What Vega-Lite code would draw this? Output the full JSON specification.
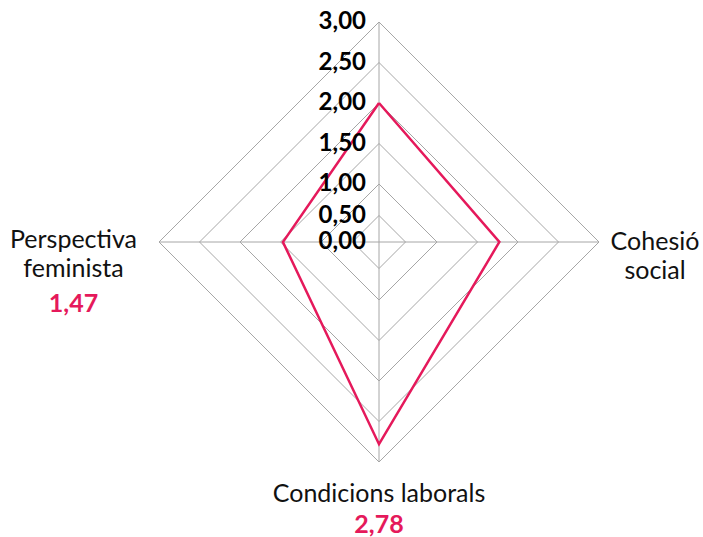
{
  "$schema": "https://vega.github.io/schema/vega-lite/v6.json",
  "width": 440,
  "height": 440,
  "autosize": {"type": "none"},
  "padding": {"left": 159, "top": 22, "right": 104, "bottom": 75},
  "background": "white",
  "config": {"view": {"stroke": null}, "font": "Lato"},
  "datasets": {
    "rings": [
      {"level": 0.5, "dx": [0, 1, 0, -1, 0], "dy": [1, 0, -1, 0, 1], "k": [0, 1, 2, 3, 4]},
      {"level": 1.0, "dx": [0, 1, 0, -1, 0], "dy": [1, 0, -1, 0, 1], "k": [0, 1, 2, 3, 4]},
      {"level": 1.5, "dx": [0, 1, 0, -1, 0], "dy": [1, 0, -1, 0, 1], "k": [0, 1, 2, 3, 4]},
      {"level": 2.0, "dx": [0, 1, 0, -1, 0], "dy": [1, 0, -1, 0, 1], "k": [0, 1, 2, 3, 4]},
      {"level": 2.5, "dx": [0, 1, 0, -1, 0], "dy": [1, 0, -1, 0, 1], "k": [0, 1, 2, 3, 4]},
      {"level": 3.0, "dx": [0, 1, 0, -1, 0], "dy": [1, 0, -1, 0, 1], "k": [0, 1, 2, 3, 4]}
    ],
    "spokes": [
      {"x1": 0, "y1": -3, "x2": 0, "y2": 3},
      {"x1": -3, "y1": 0, "x2": 3, "y2": 0}
    ],
    "scores": [
      {"axis": "", "value": 2.0, "dx": 0, "dy": 1, "k": 0},
      {"axis": "Cohesió social", "value": 1.77, "dx": 1, "dy": 0, "k": 1},
      {"axis": "Condicions laborals", "value": 2.78, "dx": 0, "dy": -1, "k": 2},
      {"axis": "Perspectiva feminista", "value": 1.47, "dx": -1, "dy": 0, "k": 3},
      {"axis": "", "value": 2.0, "dx": 0, "dy": 1, "k": 4}
    ],
    "ticks": [
      {"level": 0.0, "label": "0,00"},
      {"level": 0.5, "label": "0,50"},
      {"level": 1.0, "label": "1,00"},
      {"level": 1.5, "label": "1,50"},
      {"level": 2.0, "label": "2,00"},
      {"level": 2.5, "label": "2,50"},
      {"level": 3.0, "label": "3,00"}
    ]
  },
  "layer": [
    {
      "data": {"name": "spokes"},
      "mark": {"type": "rule", "color": "#a6a6a6", "strokeWidth": 1},
      "encoding": {
        "x": {"field": "x1", "type": "quantitative", "scale": {"domain": [-3, -1, -0.5, 0, 0.5, 1, 3], "range": [0, 162, 193.5, 220, 246.5, 278, 440], "nice": false, "zero": false}, "axis": null},
        "y": {"field": "y1", "type": "quantitative", "scale": {"domain": [-3, -1, -0.5, 0, 0.5, 1, 3], "range": [440, 278, 246.5, 220, 193.5, 162, 0], "nice": false, "zero": false}, "axis": null},
        "x2": {"field": "x2"},
        "y2": {"field": "y2"}
      }
    },
    {
      "data": {"name": "rings"},
      "transform": [
        {"flatten": ["dx", "dy", "k"]},
        {"calculate": "datum.dx * datum.level", "as": "px"},
        {"calculate": "datum.dy * datum.level", "as": "py"}
      ],
      "mark": {"type": "line", "color": "#a6a6a6", "strokeWidth": 1},
      "encoding": {
        "x": {"field": "px", "type": "quantitative"},
        "y": {"field": "py", "type": "quantitative"},
        "detail": {"field": "level"},
        "order": {"field": "k"}
      }
    },
    {
      "data": {"name": "scores"},
      "transform": [
        {"calculate": "datum.dx * datum.value", "as": "px"},
        {"calculate": "datum.dy * datum.value", "as": "py"}
      ],
      "mark": {"type": "line", "color": "#e5195b", "strokeWidth": 2.5, "strokeJoin": "miter"},
      "encoding": {
        "x": {"field": "px", "type": "quantitative"},
        "y": {"field": "py", "type": "quantitative"},
        "order": {"field": "k"}
      }
    },
    {
      "data": {"name": "ticks"},
      "transform": [{"calculate": "0", "as": "zx"}],
      "mark": {"type": "text", "align": "right", "baseline": "middle", "dx": -13, "fontSize": 24, "fontWeight": "bold", "color": "#000000"},
      "encoding": {
        "x": {"field": "zx", "type": "quantitative"},
        "y": {"field": "level", "type": "quantitative"},
        "text": {"field": "label"}
      }
    },
    {
      "data": {"values": [{"ax": -3, "ay": 0}]},
      "mark": {"type": "text", "align": "center", "baseline": "alphabetic", "dx": -85.5, "dy": 6, "fontSize": 25, "lineHeight": 29, "color": "#111111", "text": ["Perspectiva", "feminista"]},
      "encoding": {
        "x": {"field": "ax", "type": "quantitative"},
        "y": {"field": "ay", "type": "quantitative"}
      }
    },
    {
      "data": {"values": [{"ax": -3, "ay": 0, "v": "1,47"}]},
      "mark": {"type": "text", "align": "center", "baseline": "alphabetic", "dx": -85.5, "dy": 70, "fontSize": 25, "fontWeight": "bold", "color": "#e5195b"},
      "encoding": {
        "x": {"field": "ax", "type": "quantitative"},
        "y": {"field": "ay", "type": "quantitative"},
        "text": {"field": "v"}
      }
    },
    {
      "data": {"values": [{"ax": 3, "ay": 0}]},
      "mark": {"type": "text", "align": "center", "baseline": "alphabetic", "dx": 56, "dy": 8, "fontSize": 25, "lineHeight": 29, "color": "#111111", "text": ["Cohesió", "social"]},
      "encoding": {
        "x": {"field": "ax", "type": "quantitative"},
        "y": {"field": "ay", "type": "quantitative"}
      }
    },
    {
      "data": {"values": [{"ax": 0, "ay": -3, "v": "2,78"}]},
      "mark": {"type": "text", "align": "center", "baseline": "alphabetic", "dy": 71, "fontSize": 25, "fontWeight": "bold", "color": "#e5195b"},
      "encoding": {
        "x": {"field": "ax", "type": "quantitative"},
        "y": {"field": "ay", "type": "quantitative"},
        "text": {"field": "v"}
      }
    },
    {
      "data": {"values": [{"ax": 0, "ay": -3, "t": "Condicions laborals"}]},
      "mark": {"type": "text", "align": "center", "baseline": "alphabetic", "dy": 40, "fontSize": 25, "color": "#111111"},
      "encoding": {
        "x": {"field": "ax", "type": "quantitative"},
        "y": {"field": "ay", "type": "quantitative"},
        "text": {"field": "t"}
      }
    }
  ]
}
